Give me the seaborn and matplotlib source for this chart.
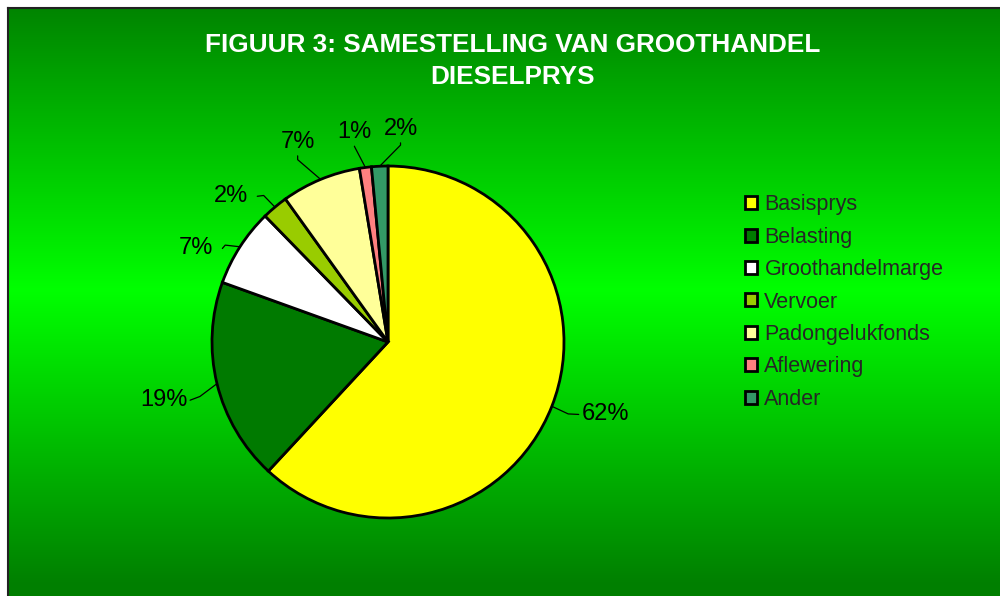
import numpy as np
import seaborn as sns
import matplotlib
matplotlib.use("Agg")
import matplotlib.pyplot as plt

# Samestelling van die groothandel dieselprys (% van totaal)
categories = ["Basisprys", "Belasting", "Groothandelmarge", "Vervoer",
              "Padongelukfonds", "Aflewering", "Ander"]
shares = [61.9, 18.6, 7.2, 2.4, 7.3, 1.1, 1.5]
colors = ["#FFFF00", "#007A00", "#FFFFFF", "#99CC00",
          "#FFFF99", "#FF8080", "#339966"]
title = "FIGUUR 3: SAMESTELLING VAN GROOTHANDEL\nDIESELPRYS"

sns.set_style("white")
plt.rcParams["font.family"] = ["Liberation Sans", "DejaVu Sans"]

fig = plt.figure(figsize=(10, 5.96), dpi=100, facecolor="white")

# agtergrond: vertikale groen gradiënt met swart rand links en bo
bg = fig.add_axes([0.008, 0, 0.992, 588 / 596])
rows = np.linspace(0, 1, 300)
g = 0.5 + 0.5 * np.clip(1 - np.abs(rows - 0.48) / 0.5, 0, 1)
grad = np.zeros((300, 1, 3))
grad[:, 0, 1] = g
bg.imshow(grad, aspect="auto", extent=[0, 1, 0, 1], origin="upper")
bg.set_xticks([])
bg.set_yticks([])
for side in ["right", "bottom"]:
    bg.spines[side].set_visible(False)
for side in ["left", "top"]:
    bg.spines[side].set_color("#222222")
    bg.spines[side].set_linewidth(1.5)

# pie
lim = 1.4
ax = fig.add_axes([0.1416, 0.01275, 0.4928, 0.8268])
ax.set_facecolor("none")
wedges, _ = ax.pie(shares, colors=colors, startangle=90, counterclock=False,
                   radius=1.0,
                   wedgeprops=dict(edgecolor="black", linewidth=2))
ax.set_xlim(-lim, lim)
ax.set_ylim(-lim, lim)
ax.set_aspect("equal")
ax.axis("off")

# persentasie-etikette met leierlyne
nudge = [(0.07, 0.045), (-0.06, -0.035), (-0.04, -0.145), (-0.09, -0.13),
         (-0.035, -0.017), (-0.03, -0.047), (0.13, -0.037)]
for w, val, (nx, ny) in zip(wedges, shares, nudge):
    ang = np.deg2rad((w.theta1 + w.theta2) / 2)
    ux, uy = np.cos(ang), np.sin(ang)
    tx, ty = 1.25 * ux + nx, 1.25 * uy + ny
    ex, ey = ux, uy
    bx, by = 1.1 * ux, 1.1 * uy
    if abs(ux) > 0.6:
        side = np.sign(ux)
        px, py = tx - side * 0.15, ty
        bx, by = bx, ty + (by - ty) * 0.3
        ax.plot([ex, bx, px], [ey, by, py], color="black", lw=0.9)
    else:
        px, py = tx, ty - 0.08
        ax.plot([ex, px, px], [ey, by + 0.02, py], color="black", lw=0.9)
    ax.text(tx, ty, f"{val:.0f}%", ha="center", va="center", fontsize=17,
            color="black")

fig.text(0.513, 1 - 61 / 596, title, ha="center", va="center",
         fontsize=18.8, fontweight="bold", color="white", linespacing=1.42)

fig.legend(wedges, categories, loc="center left",
           bbox_to_anchor=(0.745, 1 - 302 / 596), frameon=False,
           fontsize=15.5, handlelength=0.55, handleheight=0.55,
           handletextpad=0.35, labelspacing=0.53, borderpad=0,
           borderaxespad=0)

fig.savefig("out.png", dpi=100, facecolor="white")
